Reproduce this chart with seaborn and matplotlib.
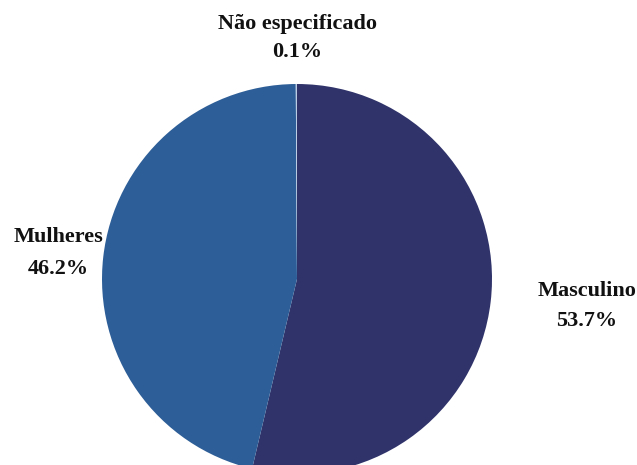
import matplotlib
matplotlib.use("Agg")
import matplotlib.pyplot as plt
import seaborn as sns

# Distribution by sex
categories = ["Masculino", "Mulheres", "Não especificado"]
shares = [53.7, 46.2, 0.1]
colors = ["#2F336A", "#2D5E97", "#B9CCE4"]

sns.set_theme(style="white")
plt.rcParams["font.family"] = ["Liberation Serif", "DejaVu Serif"]

W, H = 637, 465
fig = plt.figure(figsize=(W / 100, H / 100), dpi=100)
fig.patch.set_facecolor("white")

cx, cy, r = 297, 279, 195
ax = fig.add_axes([(cx - r) / W, 1 - (cy + r) / H, 2 * r / W, 2 * r / H])

wedges, _ = ax.pie(shares, colors=colors, startangle=90, counterclock=False,
                   radius=1, wedgeprops=dict(linewidth=0))
for w in wedges:
    w.set_clip_on(False)
ax.set_xlim(-1, 1)
ax.set_ylim(-1, 1)
ax.axis("off")


def to_data(px, py):
    return (px - cx) / r, (cy - py) / r


# name position and gap to the percentage line, in pixels
label_pos = {
    "Masculino": (587, 291, 30),
    "Mulheres": (58, 237, 32),
    "Não especificado": (297, 24, 28),
}
for name, val in zip(categories, shares):
    px, py, gap = label_pos[name]
    x, y = to_data(px, py)
    ax.text(x, y, name, ha="center", va="center", fontsize=16,
            fontweight="bold", color="#111111", clip_on=False)
    ax.text(x, y - gap / r, f"{val:.1f}%", ha="center", va="center",
            fontsize=16, fontweight="bold", color="#111111", clip_on=False)

fig.savefig("out.png", dpi=100, facecolor="white")
